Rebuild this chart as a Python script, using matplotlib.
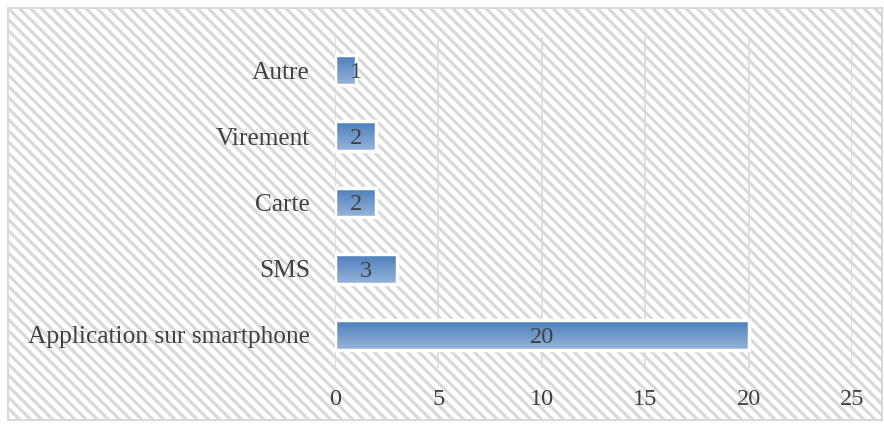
import numpy as np
import matplotlib
matplotlib.use("Agg")
import matplotlib.pyplot as plt
from matplotlib.patches import Rectangle
from matplotlib.colors import LinearSegmentedColormap

# data
categories = ["Application sur smartphone", "SMS", "Carte", "Virement", "Autre"]
values = [20, 3, 2, 2, 1]
x_ticks = [0, 5, 10, 15, 20, 25]

plt.rcParams["font.family"] = ["Liberation Serif", "DejaVu Serif"]
plt.rcParams["hatch.linewidth"] = 2.3
plt.rcParams["hatch.color"] = "#E6E6E6"
text_color = "#404040"
fs = 17.5

fig = plt.figure(figsize=(8.84, 4.25), dpi=100)
fig.patch.set_facecolor("white")

# hatched chart area with light border
bg = Rectangle((8 / 884, 5 / 425), 874 / 884, 412 / 425, transform=fig.transFigure,
               facecolor="white", edgecolor="#D9D9D9", linewidth=1.5,
               hatch="\\\\\\", zorder=-10)
fig.patches.append(bg)

ax = fig.add_axes([335 / 884, 1 - 368 / 425, 517 / 884, 331 / 425])
ax.patch.set_alpha(0)

grad = LinearSegmentedColormap.from_list("bar", ["#4A7EBB", "#97B5DA"])
gradient = np.linspace(0, 1, 64).reshape(-1, 1)

ypos = np.arange(len(categories))
h = 0.45
for y, v in zip(ypos, values):
    ax.imshow(gradient, cmap=grad, aspect="auto",
              extent=(0, v, y - h / 2, y + h / 2), zorder=3)
    ax.add_patch(Rectangle((0, y - h / 2), v, h, facecolor="none",
                           edgecolor="white", linewidth=2.5, zorder=4))
    ax.text(max(v / 2, 1.0), y, str(v), ha="center", va="center_baseline",
            fontsize=fs, color=text_color, zorder=5)

ax.set_xlim(0, 25)
ax.set_ylim(-0.5, len(categories) - 0.5)
ax.set_xticks(x_ticks)
ax.set_yticks(ypos)
ax.set_yticklabels(categories, fontsize=18.3)
ax.grid(axis="x", color="#D9D9D9", linewidth=1.2, zorder=1)
ax.set_axisbelow(True)
for s in ax.spines.values():
    s.set_visible(False)
ax.tick_params(axis="both", length=0, labelcolor=text_color)
ax.tick_params(axis="x", pad=15, labelsize=fs)
ax.tick_params(axis="y", pad=18)

fig.savefig("out.png", dpi=100)
